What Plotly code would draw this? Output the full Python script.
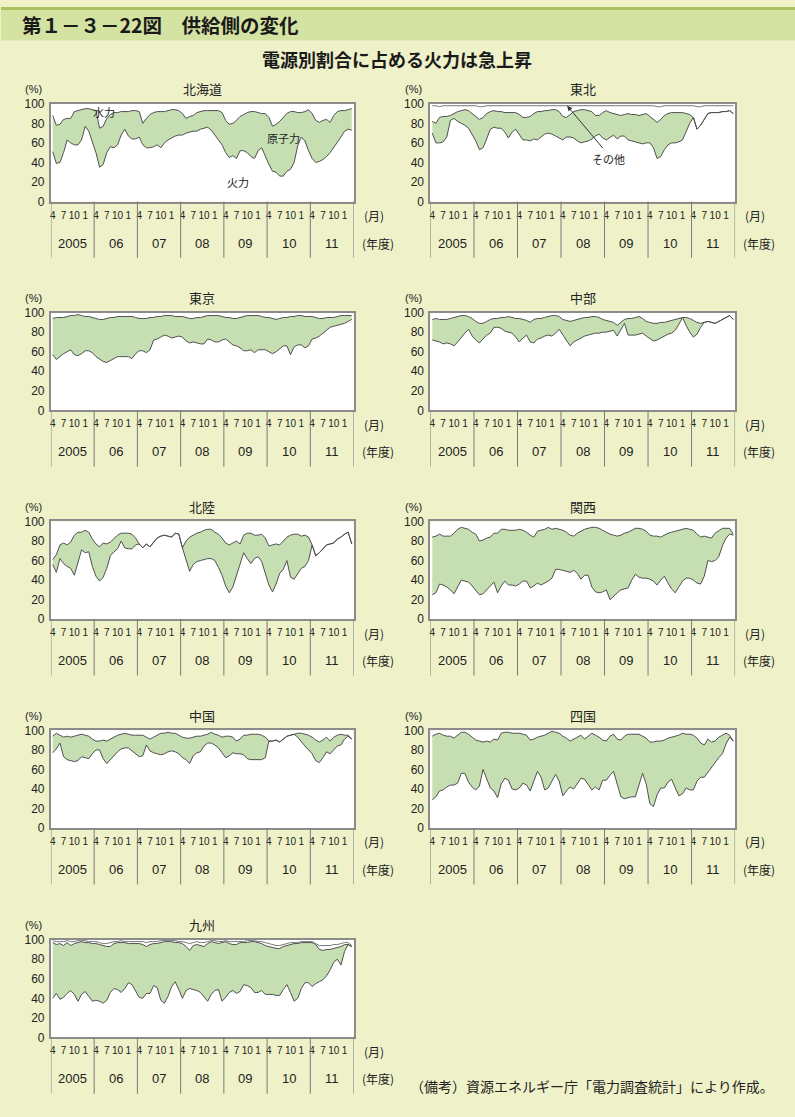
import plotly.graph_objects as go

W, H = 795, 1117

regions = ["北海道", "東北", "東京", "中部", "北陸", "関西", "中国", "四国", "九州"]
years = ["2005", "06", "07", "08", "09", "10", "11"]
month_labels = ["4", "7", "10", "1"]
month_offsets = [0, 3, 6, 9]
y_ticks = [0, 20, 40, 60, 80, 100]

# 火力 (lower line) and 火力+原子力 (upper line), monthly Apr 2005 - Mar 2012, %
hokkaido_fire = [51, 39, 40, 50, 63, 60, 58, 58, 63, 77, 72, 60,
                 50, 35, 38, 50, 56, 55, 58, 68, 74, 67, 64, 64,
                 66, 58, 55, 55, 56, 58, 55, 60, 63, 65, 67, 68,
                 68, 70, 71, 72, 72, 74, 75, 76, 73, 68, 64, 58,
                 50, 45, 47, 44, 52, 52, 50, 46, 44, 52, 55, 46,
                 38, 31, 30, 26, 26, 31, 33, 40, 57, 66, 62, 52,
                 44, 40, 41, 43, 46, 50, 55, 60, 66, 72, 74, 73]
hokkaido_fire_nuc = [88, 78, 79, 84, 85, 85, 92, 93, 94, 95, 95, 94,
                     93, 75, 77, 85, 89, 91, 91, 92, 92, 92, 93, 93,
                     92, 80, 85, 89, 91, 92, 92, 92, 93, 94, 94, 93,
                     90, 85, 87, 88, 91, 92, 93, 93, 93, 93, 93, 91,
                     83, 79, 80, 83, 87, 89, 91, 92, 92, 91, 90, 90,
                     86, 77, 79, 82, 86, 90, 92, 92, 91, 91, 92, 94,
                     90, 83, 81, 83, 84, 81, 88, 92, 93, 93, 94, 95]

tohoku_fire = [70, 60, 60, 61, 66, 83, 85, 82, 80, 78, 75, 68,
               62, 53, 55, 64, 74, 76, 75, 75, 71, 65, 71, 74,
               68, 63, 63, 62, 64, 63, 66, 69, 70, 69, 67, 65,
               63, 66, 66, 65, 62, 60, 61, 62, 64, 67, 69, 65,
               63, 66, 68, 64, 67, 67, 63, 62, 61, 60, 59, 60,
               60, 55, 44, 46, 53, 58, 60, 60, 61, 63, 72, 80,
               86, 74, 78, 84, 90, 91, 91, 91, 92, 92, 93, 90]
tohoku_fire_nuc = [82, 80, 86, 87, 87, 88, 90, 92, 93, 94, 93, 90,
                   87, 84, 86, 90, 92, 93, 92, 92, 91, 91, 91, 91,
                   89, 86, 86, 87, 90, 92, 92, 93, 93, 94, 94, 92,
                   87, 86, 89, 92, 93, 94, 94, 93, 92, 88, 88, 91,
                   93, 91, 90, 89, 88, 89, 90, 89, 89, 88, 89, 90,
                   87, 84, 81, 84, 88, 90, 91, 91, 91, 91, 90, 89,
                   86, 74, 78, 84, 90, 91, 91, 91, 92, 92, 93, 90]
tohoku_fire_nuc_hydro = [98, 98, 97, 98, 98, 98, 98, 98, 98, 98, 98, 98,
                         98, 97, 97, 98, 98, 98, 98, 98, 98, 98, 98, 98,
                         98, 98, 98, 98, 98, 98, 98, 98, 98, 98, 98, 98,
                         98, 98, 98, 98, 98, 98, 98, 98, 98, 98, 98, 98,
                         98, 98, 98, 98, 98, 98, 98, 98, 98, 98, 98, 98,
                         98, 98, 97, 97, 98, 98, 98, 98, 98, 98, 98, 98,
                         98, 97, 97, 98, 98, 98, 98, 98, 98, 98, 98, 98]

tokyo_fire = [57, 52, 55, 58, 60, 62, 57, 56, 58, 61, 61, 59,
              55, 52, 50, 49, 51, 53, 55, 55, 55, 55, 53, 58,
              61, 61, 59, 62, 72, 73, 75, 77, 76, 74, 75, 76,
              75, 71, 69, 70, 69, 68, 68, 73, 72, 70, 70, 72,
              73, 70, 67, 66, 64, 61, 61, 62, 59, 62, 62, 62,
              60, 58, 60, 63, 66, 66, 57, 65, 67, 67, 64, 66,
              73, 74, 76, 79, 82, 85, 86, 87, 88, 89, 91, 93]
tokyo_fire_nuc = [94, 95, 95, 95, 96, 97, 97, 98, 97, 96, 96, 95,
                  94, 93, 93, 94, 95, 95, 96, 96, 96, 96, 96, 95,
                  94, 94, 94, 95, 95, 96, 96, 97, 97, 97, 96, 96,
                  96, 95, 94, 94, 95, 95, 96, 97, 97, 97, 97, 96,
                  95, 95, 94, 94, 95, 96, 97, 97, 97, 97, 96, 95,
                  95, 94, 93, 94, 95, 95, 96, 96, 97, 97, 96, 96,
                  96, 95, 94, 94, 95, 95, 95, 96, 97, 97, 97, 97]

chubu_fire = [72, 71, 70, 68, 69, 68, 66, 70, 75, 79, 83, 76,
              72, 69, 73, 77, 79, 85, 85, 84, 81, 80, 79, 75,
              70, 74, 77, 70, 69, 73, 74, 76, 77, 76, 79, 83,
              77, 72, 66, 70, 72, 74, 76, 77, 78, 79, 79, 80,
              80, 81, 82, 76, 82, 89, 77, 77, 77, 78, 79, 76,
              73, 71, 72, 74, 76, 78, 79, 82, 88, 95, 87, 80,
              75, 78, 85, 90, 91, 90, 89, 91, 93, 95, 97, 93]
chubu_fire_nuc = [93, 94, 93, 93, 93, 94, 95, 96, 97, 97, 96, 94,
                  91, 89, 89, 91, 93, 94, 94, 95, 95, 96, 95, 94,
                  94, 93, 92, 90, 93, 94, 94, 95, 96, 97, 97, 96,
                  93, 92, 91, 92, 93, 94, 95, 95, 96, 96, 95, 93,
                  92, 91, 90, 87, 90, 93, 94, 94, 95, 96, 94, 91,
                  90, 89, 89, 90, 90, 91, 92, 93, 94, 95, 95, 94,
                  92, 90, 89, 90, 91, 90, 89, 91, 93, 95, 97, 93]

hokuriku_fire = [56, 48, 62, 57, 54, 52, 45, 58, 71, 68, 69, 54,
                 44, 39, 43, 52, 65, 69, 72, 80, 73, 72, 72, 76,
                 77, 73, 77, 74, 79, 83, 85, 86, 85, 84, 88, 87,
                 73, 61, 49, 56, 59, 60, 61, 62, 62, 60, 53, 45,
                 34, 27, 33, 45, 56, 68, 62, 57, 62, 64, 59, 47,
                 35, 28, 36, 47, 51, 60, 43, 41, 47, 52, 54, 60,
                 76, 65, 68, 72, 76, 77, 78, 82, 84, 87, 89, 77]
hokuriku_fire_nuc = [61, 66, 76, 78, 76, 79, 86, 89, 89, 91, 89, 82,
                     77, 74, 78, 77, 79, 83, 86, 88, 88, 88, 87, 83,
                     77, 73, 77, 74, 79, 83, 85, 86, 85, 84, 88, 87,
                     73, 80, 84, 86, 88, 89, 91, 92, 92, 89, 87, 83,
                     78, 76, 78, 80, 77, 86, 88, 88, 86, 86, 87, 83,
                     75, 76, 77, 76, 80, 84, 86, 87, 87, 85, 86, 84,
                     76, 65, 68, 72, 76, 77, 78, 82, 84, 87, 89, 77]

kansai_fire = [25, 27, 36, 35, 33, 30, 26, 33, 40, 39, 38, 34,
               29, 25, 26, 30, 34, 38, 27, 34, 39, 35, 35, 34,
               36, 39, 39, 32, 34, 37, 35, 37, 39, 42, 51, 51,
               50, 49, 48, 50, 47, 41, 45, 45, 33, 28, 27, 28,
               30, 20, 24, 27, 30, 31, 32, 40, 46, 43, 42, 42,
               41, 39, 35, 40, 44, 37, 31, 27, 33, 39, 42, 42,
               40, 37, 36, 44, 60, 59, 60, 64, 75, 83, 87, 86]
kansai_fire_nuc = [84, 85, 87, 85, 85, 85, 88, 92, 94, 93, 92, 89,
                   87, 80, 81, 83, 84, 88, 88, 92, 92, 91, 91, 91,
                   92, 91, 89, 86, 84, 90, 91, 92, 94, 92, 93, 92,
                   91, 89, 86, 85, 88, 90, 92, 93, 94, 94, 93, 91,
                   89, 87, 86, 85, 86, 88, 89, 91, 93, 93, 92, 90,
                   86, 85, 85, 84, 86, 88, 89, 90, 91, 92, 93, 92,
                   91, 87, 84, 85, 84, 83, 88, 91, 93, 93, 93, 87]

chugoku_fire = [77, 81, 87, 73, 70, 69, 68, 69, 73, 72, 71, 76,
                80, 80, 71, 66, 70, 75, 78, 81, 82, 82, 79, 76,
                73, 74, 85, 79, 77, 76, 75, 76, 78, 79, 78, 76,
                72, 70, 66, 74, 77, 78, 84, 87, 87, 85, 82, 77,
                72, 74, 77, 76, 76, 75, 71, 70, 70, 70, 70, 72,
                89, 89, 90, 88, 91, 94, 95, 96, 93, 88, 84, 80,
                76, 69, 67, 72, 78, 76, 80, 84, 85, 91, 94, 91]
chugoku_fire_nuc = [94, 97, 95, 93, 94, 93, 94, 95, 96, 95, 94, 91,
                    89, 89, 90, 89, 91, 93, 95, 96, 97, 96, 95, 95,
                    95, 95, 93, 91, 93, 95, 97, 97, 98, 97, 97, 95,
                    93, 92, 92, 93, 94, 94, 95, 96, 98, 96, 95, 93,
                    94, 94, 93, 89, 91, 95, 95, 96, 96, 96, 95, 93,
                    89, 89, 90, 88, 91, 94, 95, 96, 97, 97, 96, 95,
                    93, 90, 88, 90, 93, 89, 93, 95, 96, 95, 95, 91]

shikoku_fire = [29, 32, 38, 39, 42, 44, 44, 46, 56, 56, 47, 42,
                39, 43, 60, 50, 41, 38, 31, 45, 51, 49, 40, 39,
                41, 46, 44, 38, 48, 58, 52, 39, 41, 48, 55, 48,
                33, 38, 42, 40, 45, 51, 50, 45, 39, 42, 39, 49,
                49, 54, 58, 45, 32, 30, 31, 32, 32, 45, 56, 45,
                25, 22, 34, 41, 41, 47, 50, 41, 33, 35, 41, 39,
                39, 48, 52, 52, 57, 62, 68, 72, 76, 86, 93, 89]
shikoku_fire_nuc = [94, 96, 97, 95, 94, 94, 92, 95, 98, 98, 96, 93,
                    90, 89, 88, 89, 88, 91, 90, 97, 98, 98, 97, 97,
                    97, 96, 95, 90, 91, 93, 94, 95, 97, 99, 98, 97,
                    94, 92, 89, 91, 93, 95, 91, 94, 97, 95, 93, 90,
                    89, 94, 96, 91, 90, 94, 96, 96, 96, 96, 94, 92,
                    88, 88, 89, 89, 90, 92, 93, 94, 95, 97, 96, 96,
                    95, 92, 87, 85, 91, 88, 89, 93, 95, 97, 95, 89]

kyushu_fire = [40, 45, 39, 41, 45, 48, 44, 37, 44, 47, 42, 37,
               38, 37, 35, 38, 46, 50, 49, 46, 50, 56, 54, 48,
               41, 40, 45, 45, 53, 51, 38, 35, 42, 52, 57, 49,
               40, 48, 50, 49, 48, 46, 42, 37, 44, 48, 49, 37,
               41, 46, 48, 45, 47, 54, 53, 51, 46, 46, 48, 44,
               44, 44, 43, 43, 49, 54, 46, 37, 40, 50, 56, 56,
               52, 55, 57, 59, 63, 69, 77, 80, 74, 88, 95, 93]
kyushu_fire_nuc = [97, 95, 96, 94, 97, 94, 96, 97, 98, 97, 97, 96,
                   96, 95, 94, 93, 93, 96, 97, 97, 97, 96, 96, 96,
                   96, 95, 93, 95, 96, 96, 97, 98, 98, 98, 97, 97,
                   96, 93, 89, 94, 95, 94, 93, 96, 98, 97, 96, 97,
                   98, 96, 95, 95, 97, 97, 97, 98, 98, 97, 96, 94,
                   93, 92, 91, 91, 93, 94, 95, 96, 96, 97, 97, 97,
                   97, 95, 90, 89, 90, 90, 91, 92, 93, 95, 95, 93]
kyushu_fire_nuc_hydro = [99, 98, 98, 98, 99, 98, 98, 99, 99, 99, 98, 98,
                         98, 97, 96, 96, 97, 98, 98, 99, 98, 98, 98, 98,
                         98, 98, 97, 98, 98, 98, 99, 99, 99, 99, 99, 98,
                         98, 97, 96, 97, 98, 97, 97, 98, 99, 99, 98, 98,
                         99, 98, 98, 98, 98, 98, 99, 99, 99, 98, 98, 97,
                         96, 95, 94, 94, 95, 96, 97, 97, 97, 98, 98, 98,
                         98, 96, 94, 94, 94, 94, 95, 95, 96, 97, 97, 94]

series = {
    "北海道": (hokkaido_fire, hokkaido_fire_nuc, None),
    "東北": (tohoku_fire, tohoku_fire_nuc, tohoku_fire_nuc_hydro),
    "東京": (tokyo_fire, tokyo_fire_nuc, None),
    "中部": (chubu_fire, chubu_fire_nuc, None),
    "北陸": (hokuriku_fire, hokuriku_fire_nuc, None),
    "関西": (kansai_fire, kansai_fire_nuc, None),
    "中国": (chugoku_fire, chugoku_fire_nuc, None),
    "四国": (shikoku_fire, shikoku_fire_nuc, None),
    "九州": (kyushu_fire, kyushu_fire_nuc, kyushu_fire_nuc_hydro),
}

# ---------------- styling / layout -----------------
BG = "#eff2c9"
GREEN = "#c6dfb2"
LINE = "#505050"
FRAME = "#8c8c8c"
JP = "Noto Sans CJK JP"
NUM = "Liberation Sans, Noto Sans CJK JP, sans-serif"
NARROW = "Liberation Sans Narrow, Liberation Sans, sans-serif"

col_px = [(50, 353), (430, 735)]
row_top_px = [98, 309.5, 521, 732.5, 944.5]
PLOT_H = 99


def px(x):
    return x / W


def py(y):
    return 1 - y / H


fig = go.Figure()
annotations = []
shapes = []

# header
shapes.append(dict(type="rect", xref="paper", yref="paper", x0=0, x1=1,
                   y0=py(34), y1=py(0), fillcolor="#d5e3a2", line_width=0, layer="below"))
shapes.append(dict(type="rect", xref="paper", yref="paper", x0=0, x1=1,
                   y0=py(3), y1=py(0), fillcolor="#a9c45e", line_width=0, layer="below"))
annotations.append(dict(text="<b>第１－３－22図　供給側の変化</b>", xref="paper", yref="paper",
                        x=px(19), y=py(18), xanchor="left", yanchor="middle", showarrow=False,
                        font=dict(family=JP, size=19.5, color="#1a1a1a")))
annotations.append(dict(text="<b>電源別割合に占める火力は急上昇</b>", xref="paper", yref="paper",
                        x=px(396), y=py(53), xanchor="center", yanchor="middle", showarrow=False,
                        font=dict(family=JP, size=18, color="#1a1a1a")))

tickvals = [12 * y + m for y in range(len(years)) for m in month_offsets]
ticktext = [lab for _ in years for lab in month_labels]

for k, name in enumerate(regions):
    r, c = divmod(k, 2)
    x0p, x1p = col_px[c]
    top = row_top_px[r]
    bot = top + PLOT_H
    xa = "x" if k == 0 else f"x{k+1}"
    ya = "y" if k == 0 else f"y{k+1}"
    xname = "xaxis" if k == 0 else f"xaxis{k+1}"
    yname = "yaxis" if k == 0 else f"yaxis{k+1}"
    fire, fire_nuc, top_line = series[name]
    xs = list(range(len(fire)))

    fig.add_trace(go.Scatter(x=xs, y=fire, mode="lines", xaxis=xa, yaxis=ya,
                             line=dict(color=LINE, width=1), hoverinfo="skip", showlegend=False))
    fig.add_trace(go.Scatter(x=xs, y=fire_nuc, mode="lines", xaxis=xa, yaxis=ya,
                             fill="tonexty", fillcolor=GREEN,
                             line=dict(color=LINE, width=1), hoverinfo="skip", showlegend=False))
    if top_line is not None:
        fig.add_trace(go.Scatter(x=xs, y=top_line, mode="lines", xaxis=xa, yaxis=ya,
                                 line=dict(color="#777777", width=1), hoverinfo="skip",
                                 showlegend=False))

    fig.update_layout(**{
        xname: dict(domain=[px(x0p), px(x1p)], anchor=ya, range=[-0.5, 83.5],
                    tickvals=tickvals, ticktext=ticktext, ticks="", showgrid=False,
                    zeroline=False, showline=True, mirror=True, linecolor=FRAME, linewidth=2,
                    tickfont=dict(family=NARROW, size=10, color="#222"),
                    ticklabelstandoff=3, fixedrange=True),
        yname: dict(domain=[py(bot), py(top)], anchor=xa, range=[0, 100],
                    tickvals=y_ticks, ticks="", showgrid=False, zeroline=False,
                    showline=True, mirror=True, linecolor=FRAME, linewidth=2,
                    tickfont=dict(family=NUM, size=12, color="#222"),
                    ticklabelstandoff=2, fixedrange=True),
    })

    annotations.append(dict(text=name, xref="paper", yref="paper", x=px((x0p + x1p) / 2),
                            y=py(top - 15), xanchor="center", yanchor="middle", showarrow=False,
                            font=dict(family=JP, size=13, color="#222")))
    annotations.append(dict(text="(%)", xref="paper", yref="paper", x=px(x0p - 17),
                            y=py(top - 15), xanchor="center", yanchor="middle", showarrow=False,
                            font=dict(family=NUM, size=11, color="#222")))
    for j, yl in enumerate(years):
        annotations.append(dict(text=yl, xref=xa, yref="paper", x=12 * j + 5.5,
                                y=py(bot + 42), xanchor="center", yanchor="middle",
                                showarrow=False, font=dict(family=NUM, size=13, color="#222")))
    for j in range(len(years) + 1):
        shapes.append(dict(type="line", xref=xa, yref="paper", x0=12 * j - 0.5, x1=12 * j - 0.5,
                           y0=py(bot), y1=py(bot + 57), line=dict(color="#7a7a7a", width=1)))
    annotations.append(dict(text="(月)", xref="paper", yref="paper", x=px(x1p + 8),
                            y=py(bot + 14), xanchor="left", yanchor="middle", showarrow=False,
                            font=dict(family=JP, size=12, color="#222")))
    annotations.append(dict(text="(年度)", xref="paper", yref="paper", x=px(x1p + 6),
                            y=py(bot + 42), xanchor="left", yanchor="middle", showarrow=False,
                            font=dict(family=JP, size=12, color="#222")))

annotations.append(dict(text="水力", xref="x", yref="y", x=14.2, y=92, showarrow=False,
                        font=dict(family=JP, size=11, color="#222")))
annotations.append(dict(text="原子力", xref="x", yref="y", x=64, y=65, showarrow=False,
                        font=dict(family=JP, size=11, color="#222")))
annotations.append(dict(text="火力", xref="x", yref="y", x=51.3, y=20, showarrow=False,
                        font=dict(family=JP, size=11, color="#222")))
annotations.append(dict(text="その他", xref="x2", yref="y2", x=48.5, y=43, showarrow=False,
                        font=dict(family=JP, size=11, color="#222")))
annotations.append(dict(text="", xref="x2", yref="y2", x=37.2, y=98, ax=47.4, ay=53,
                        axref="x2", ayref="y2", showarrow=True, arrowhead=2, arrowsize=1,
                        arrowwidth=1, arrowcolor="#333"))

annotations.append(dict(text="（備考）資源エネルギー庁「電力調査統計」により作成。", xref="paper",
                        yref="paper", x=px(408), y=py(1093), xanchor="left", yanchor="middle",
                        showarrow=False, font=dict(family=JP, size=14, color="#222")))

fig.update_layout(width=W, height=H, margin=dict(l=0, r=0, t=0, b=0),
                  paper_bgcolor=BG, plot_bgcolor="white", annotations=annotations,
                  shapes=shapes, showlegend=False, hovermode=False)

post = ("document.body.style.margin='0';"
        "document.body.style.padding='0';"
        "document.body.style.background='" + BG + "';")

fig.write_html("out.html", post_script=post, config={"displayModeBar": False})
